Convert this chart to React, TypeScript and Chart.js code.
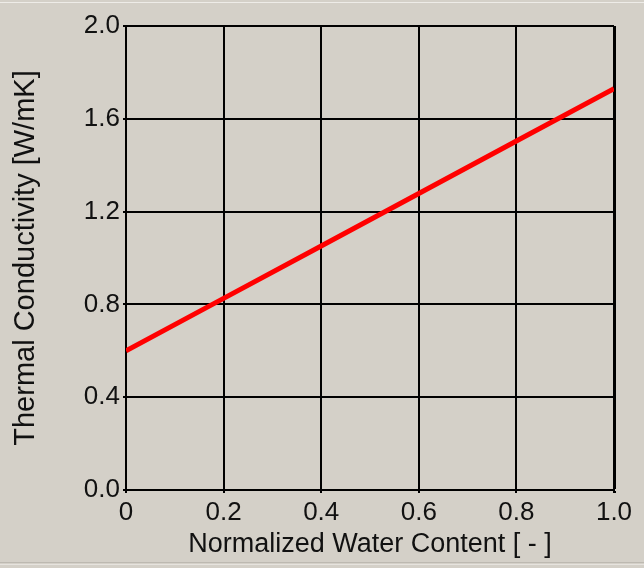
import React, { useEffect, useRef } from "react";
import { Chart, registerables } from "chart.js";

Chart.register(...registerables);

const waterContent = [0, 0.2, 0.4, 0.6, 0.8, 1.0];
const conductivity = [0.6, 0.826, 1.052, 1.278, 1.504, 1.73];
const xTicks = [0, 0.2, 0.4, 0.6, 0.8, 1.0];
const yTicks = [0, 0.4, 0.8, 1.2, 1.6, 2.0];
const xTitle = "Normalized Water Content [ - ]";
const yTitle = "Thermal Conductivity [W/mK]";

const BG = "#d4d0c8";
const FONT = "'Liberation Sans', Arial, sans-serif";

export default function App() {
  const ref = useRef<HTMLCanvasElement | null>(null);
  useEffect(() => {
    if (!ref.current) return;
    const bgPlugin = {
      id: "bg",
      beforeDraw(chart: any) {
        const { ctx, width, height } = chart;
        ctx.save();
        ctx.fillStyle = BG;
        ctx.fillRect(0, 0, width, height);
        ctx.fillStyle = "#eeece8";
        ctx.fillRect(0, 2, width, 1);
        ctx.fillStyle = "#bdb9b1";
        ctx.fillRect(0, 562, width, 1);
        ctx.fillStyle = "#e6e3de";
        ctx.fillRect(0, 564, width, 1);
        ctx.restore();
      },
    };
    const chart = new Chart(ref.current, {
      type: "line",
      data: {
        datasets: [
          {
            data: waterContent.map((x, i) => ({ x, y: conductivity[i] })),
            borderColor: "#ff0000",
            borderWidth: 5,
            pointRadius: 0,
            fill: false,
            tension: 0,
          },
        ],
      },
      options: {
        animation: false,
        responsive: false,
        layout: { padding: { left: 0, top: 26, right: 30, bottom: 0 } },
        plugins: { legend: { display: false }, tooltip: { enabled: false } },
        scales: {
          x: {
            type: "linear",
            min: 0,
            max: 1,
            afterBuildTicks: (s: any) => {
              s.ticks = xTicks.map((v) => ({ value: v }));
            },
            afterFit: (s: any) => {
              s.height = 78;
            },
            grid: {
              color: "#000",
              lineWidth: (c: any) => (c.index === xTicks.length - 1 ? 3 : 2),
              drawTicks: true,
              tickLength: 3,
            },
            border: { display: true, color: "#000", width: 2 },
            ticks: {
              color: "#111",
              font: { family: FONT, size: 26 },
              padding: 4,
              maxRotation: 0,
              autoSkip: false,
              callback: (v: any) => (v === 0 ? "0" : Number(v).toFixed(1)),
            },
            title: {
              display: true,
              text: xTitle,
              color: "#111",
              font: { family: FONT, size: 27 },
              padding: { top: 0, bottom: 7 },
            },
          },
          y: {
            type: "linear",
            min: 0,
            max: 2,
            afterBuildTicks: (s: any) => {
              s.ticks = yTicks.map((v) => ({ value: v }));
            },
            afterFit: (s: any) => {
              s.width = 126;
            },
            grid: {
              color: "#000",
              lineWidth: 2,
              drawTicks: true,
              tickLength: 3,
            },
            border: { display: true, color: "#000", width: 2 },
            ticks: {
              color: "#111",
              font: { family: FONT, size: 26 },
              padding: 3,
              autoSkip: false,
              callback: (v: any) => Number(v).toFixed(1),
            },
            title: {
              display: true,
              text: yTitle,
              color: "#111",
              font: { family: FONT, size: 29 },
              padding: { top: 9, bottom: 0 },
            },
          },
        },
      },
      plugins: [bgPlugin],
    });
    return () => chart.destroy();
  }, []);
  return (
    <div style={{ position: "absolute", left: 0, top: 0, width: 644, height: 568, background: BG }}>
      <canvas ref={ref} width={644} height={568} style={{ display: "block" }} />
    </div>
  );
}
